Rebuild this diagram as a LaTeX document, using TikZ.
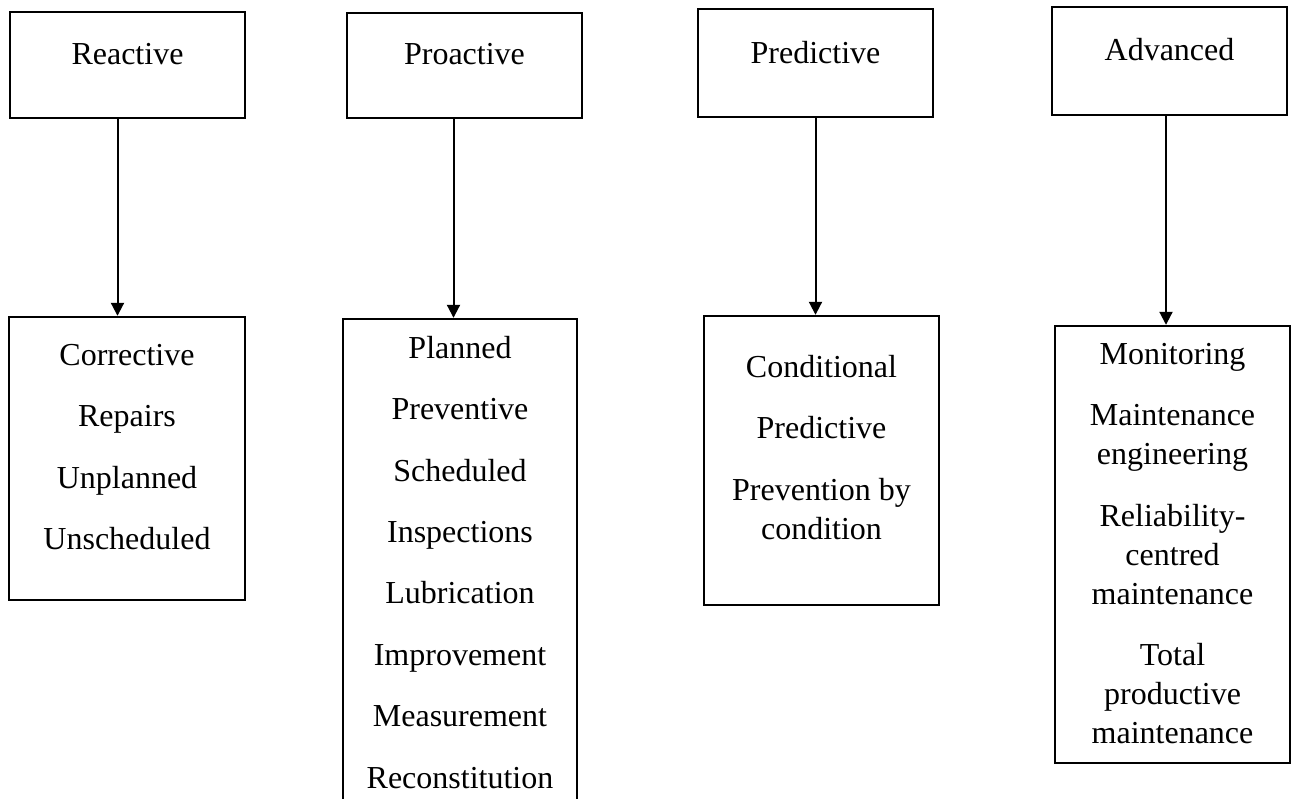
\documentclass[tikz,border=0pt]{standalone}
\usepackage{fontspec}
\setmainfont{Liberation Serif}
\usetikzlibrary{arrows.meta,positioning}

\tikzset{
  head/.style  = {draw, line width=1.2pt, minimum width=117.5pt, inner sep=0pt},
  list/.style  = {draw, line width=1.2pt, minimum width=117.5pt, inner sep=0pt},
  items/.style = {align=center, anchor=north, inner sep=0pt},
  link/.style  = {-{Triangle[width=6.5pt,length=6.5pt]}, line width=1pt},
}

\begin{document}
\begin{tikzpicture}[x=0.5pt, y=-0.5pt, font=\fontsize{16}{19.5}\selectfont]
    \clip (0,0) rectangle (1295,798);

    % maintenance types
    \node[head, text height=26pt, text depth=27pt] (reac) at (127.5,65) {Reactive};
    \node[head, text height=25.5pt, text depth=27pt] (proa) at (464.5,65.5) {Proactive};
    \node[head, text height=27pt, text depth=27pt] (pred) at (815.5,63) {Predictive};
    \node[head, text height=26.5pt, text depth=27.5pt] (adv) at (1169.5,61) {Advanced};

    % lists below
    \node[list, minimum width=118pt, minimum height=141.5pt] (reacL) at (127,458.5) {};
    \node[list, minimum width=117pt, minimum height=255.5pt] (proaL) at (460,574.5) {};
    \node[list, minimum height=144.5pt] (predL) at (821.5,460.5) {};
    \node[list, minimum height=218.5pt] (advL) at (1172.5,544.5) {};

    \node[items] (reacT) at ([yshift=-10.85pt]reacL.north)
      {\strut Corrective\\[11.2pt] Repairs\\[11.2pt] Unplanned\\[11.2pt] Unscheduled};
    \node[items] (proaT) at ([yshift=-6.35pt]proaL.north)
      {\strut Planned\\[11.2pt] Preventive\\[11.2pt] Scheduled\\[11.2pt] Inspections\\[11.2pt]
       Lubrication\\[11.2pt] Improvement\\[11.2pt] Measurement\\[11.2pt] Reconstitution};
    \node[items] (predT) at ([yshift=-17.35pt]predL.north)
      {\strut Conditional\\[11.2pt] Predictive\\[11.2pt] Prevention by\\ condition};
    \node[items] (advT) at ([yshift=-5.85pt]advL.north)
      {\strut Monitoring\\[11.2pt] Maintenance\\ engineering\\[11.2pt] Reliability-\\ centred\\ maintenance\\[11.2pt]
       Total\\ productive\\ maintenance};

    \draw[link] ([xshift=-5pt]reac.south) -- ([xshift=-5pt]reac.south |- reacL.north);
    \draw[link] ([xshift=-5.5pt]proa.south) -- ([xshift=-5.5pt]proa.south |- proaL.north);
    \draw[link] (pred.south) -- (pred.south |- predL.north);
    \draw[link] ([xshift=-1.75pt]adv.south) -- ([xshift=-1.75pt]adv.south |- advL.north);
\end{tikzpicture}
\end{document}
